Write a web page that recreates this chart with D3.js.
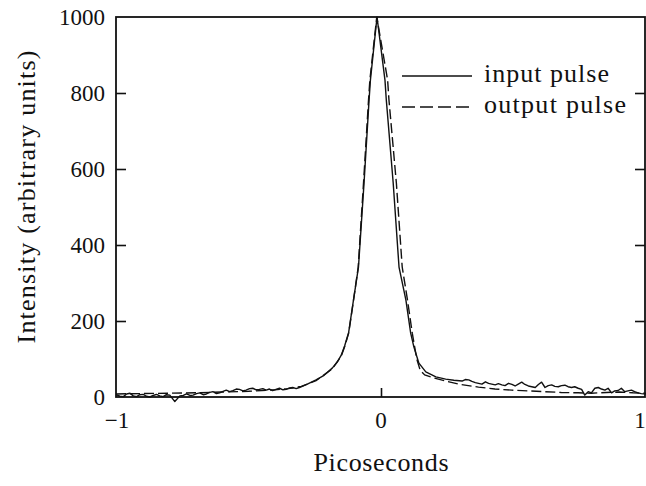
<!DOCTYPE html>
<html><head><meta charset="utf-8">
<script src="https://cdn.jsdelivr.net/npm/d3@7"></script>
<style>
html,body{margin:0;padding:0;background:#fff;}
svg{display:block;}
text{font-family:"Liberation Serif","Times New Roman","DejaVu Serif",serif;fill:#111;}
</style></head>
<body>
<svg id="chart" width="646" height="486"></svg>
<script>
// ---- data ----
const inputTime = [-1.0,-0.985,-0.972,-0.96,-0.947,-0.935,-0.922,-0.91,-0.897,-0.885,-0.872,-0.86,-0.847,-0.835,-0.822,-0.81,-0.797,-0.778,-0.759,-0.746,-0.734,-0.721,-0.709,-0.696,-0.684,-0.671,-0.659,-0.646,-0.634,-0.621,-0.609,-0.596,-0.584,-0.571,-0.559,-0.546,-0.534,-0.521,-0.509,-0.496,-0.484,-0.471,-0.459,-0.446,-0.433,-0.421,-0.409,-0.396,-0.383,-0.37,-0.358,-0.345,-0.333,-0.32,-0.308,-0.28,-0.245,-0.215,-0.184,-0.165,-0.15,-0.137,-0.122,-0.105,-0.085,-0.064,-0.045,-0.040,-0.015,0.015,0.020,0.046,0.068,0.094,0.112,0.124,0.143,0.169,0.207,0.244,0.275,0.306,0.318,0.331,0.343,0.356,0.368,0.381,0.394,0.406,0.418,0.431,0.443,0.456,0.468,0.481,0.494,0.506,0.518,0.531,0.543,0.556,0.569,0.582,0.594,0.606,0.619,0.631,0.644,0.656,0.669,0.681,0.694,0.706,0.719,0.731,0.744,0.757,0.769,0.782,0.794,0.807,0.820,0.832,0.845,0.857,0.870,0.882,0.895,0.907,0.920,0.932,0.945,0.957,0.970,0.982,1.0];
const inputIntensity = [6,2,1,8,10,3,1,6,7,2,0,4,7,3,1,6,5,-12,3,4,8,4,5,9,11,6,8,12,14,9,11,15,18,14,17,21,20,16,18,22,23,19,20,22,18,21,17,20,23,19,20,24,25,22,25,33,45,57,76,92,110,135,170,250,342,563,782,834,1000,834,782,563,342,255,168,132,89,66,53,47,44,42,46,45,41,38,36,34,40,36,34,32,35,32,30,36,33,29,34,39,33,29,27,25,33,39,25,30,32,28,27,30,31,27,25,27,23,20,5,14,11,23,25,21,18,23,11,16,17,23,14,16,18,14,11,9,8];

const outputTime = [-1.0,-0.9,-0.8,-0.7,-0.6,-0.5,-0.45,-0.4,-0.35,-0.3,-0.245,-0.184,-0.15,-0.137,-0.122,-0.105,-0.086,-0.066,-0.047,-0.042,-0.016,0.025,0.030,0.058,0.080,0.100,0.118,0.135,0.148,0.165,0.200,0.244,0.300,0.368,0.430,0.494,0.560,0.620,0.680,0.744,0.794,0.850,0.900,0.950,1.0];
const outputIntensity = [8,9,10,11,13,15,17,19,22,28,43,74,108,133,168,248,342,563,782,834,1000,834,782,563,342,255,168,100,70,58,50,42,33,26,21,18,16,14,12,11,10,12,13,11,10];

const xTickValues = [-1, 0, 1];
const xTickLabels = ["\u22121", "0", "1"];
const yTickValues = [0, 200, 400, 600, 800, 1000];
const yTickLabels = ["0", "200", "400", "600", "800", "1000"];
const seriesNames = ["input pulse", "output pulse"];

// ---- layout ----
const svg = d3.select("#chart");
const L = 116, R = 646, T = 17, B = 397;
const x = d3.scaleLinear().domain([-1, 1]).range([L, R]);
const y = d3.scaleLinear().domain([0, 1000]).range([B, T]);
const ink = "#111";

// frame
svg.append("rect").attr("x", L).attr("y", T).attr("width", 645 - L).attr("height", B - T)
  .attr("fill", "none").attr("stroke", ink).attr("stroke-width", 1.8);

// left axis (inward ticks)
const yLeft = svg.append("g").attr("transform", `translate(${L},0)`)
  .call(d3.axisRight(y).tickValues(yTickValues.filter(v => v > 0 && v < 1000)).tickSize(10).tickFormat(""));
yLeft.select(".domain").remove();
yLeft.selectAll("line").attr("stroke", ink).attr("stroke-width", 1.6);

// right axis (inward ticks)
const yRight = svg.append("g").attr("transform", `translate(645,0)`)
  .call(d3.axisLeft(y).tickValues(yTickValues.filter(v => v > 0 && v < 1000)).tickSize(10).tickFormat(""));
yRight.select(".domain").remove();
yRight.selectAll("line").attr("stroke", ink).attr("stroke-width", 1.6);

// y labels
svg.append("g").selectAll("text").data(yTickValues).join("text")
  .attr("x", 105).attr("y", d => y(d)).attr("dy", "0.35em")
  .attr("text-anchor", "end").attr("font-size", 23)
  .text((d, i) => yTickLabels[i]);

// bottom axis tick at 0 (inward)
const xBottom = svg.append("g").attr("transform", `translate(0,${B})`)
  .call(d3.axisTop(x).tickValues([0]).tickSize(9).tickFormat(""));
xBottom.select(".domain").remove();
xBottom.selectAll("line").attr("stroke", ink).attr("stroke-width", 1.6);

// x labels
svg.append("g").selectAll("text").data(xTickValues).join("text")
  .attr("x", d => x(d) + (d === -1 ? 1 : (d === 1 ? -6 : 0))).attr("y", 428)
  .attr("text-anchor", "middle").attr("font-size", 23)
  .text((d, i) => xTickLabels[i]);

// axis titles
svg.append("text").attr("x", 381).attr("y", 471).attr("text-anchor", "middle")
  .attr("font-size", 26).attr("textLength", 135).attr("lengthAdjust", "spacing")
  .text("Picoseconds");
svg.append("text").attr("transform", "translate(35,197) rotate(-90)").attr("text-anchor", "middle")
  .attr("font-size", 26).attr("textLength", 293).attr("lengthAdjust", "spacing")
  .text("Intensity (arbitrary units)");

// lines
const line = d3.line().x(d => x(d[0])).y(d => y(d[1]));
const inputData = inputTime.map((t, i) => [t, inputIntensity[i]]);
const outputData = outputTime.map((t, i) => [t, outputIntensity[i]]);

svg.append("path").datum(outputData).attr("d", line)
  .attr("fill", "none").attr("stroke", ink).attr("stroke-width", 1.4)
  .attr("stroke-dasharray", "10,4");
svg.append("path").datum(inputData).attr("d", line)
  .attr("fill", "none").attr("stroke", ink).attr("stroke-width", 1.4)
  .attr("stroke-linejoin", "round");

// legend
const legend = svg.append("g");
const legY = [76, 107];
legend.selectAll("line").data(seriesNames).join("line")
  .attr("x1", 402).attr("x2", 472)
  .attr("y1", (d, i) => legY[i]).attr("y2", (d, i) => legY[i])
  .attr("stroke", ink).attr("stroke-width", 1.6)
  .attr("stroke-dasharray", (d, i) => i === 1 ? "13,5" : null);
legend.selectAll("text").data(seriesNames).join("text")
  .attr("x", 484).attr("y", (d, i) => legY[i] + 6)
  .attr("font-size", 26)
  .attr("textLength", (d, i) => i === 0 ? 125 : 142).attr("lengthAdjust", "spacing")
  .text(d => d);
</script>
</body></html>
